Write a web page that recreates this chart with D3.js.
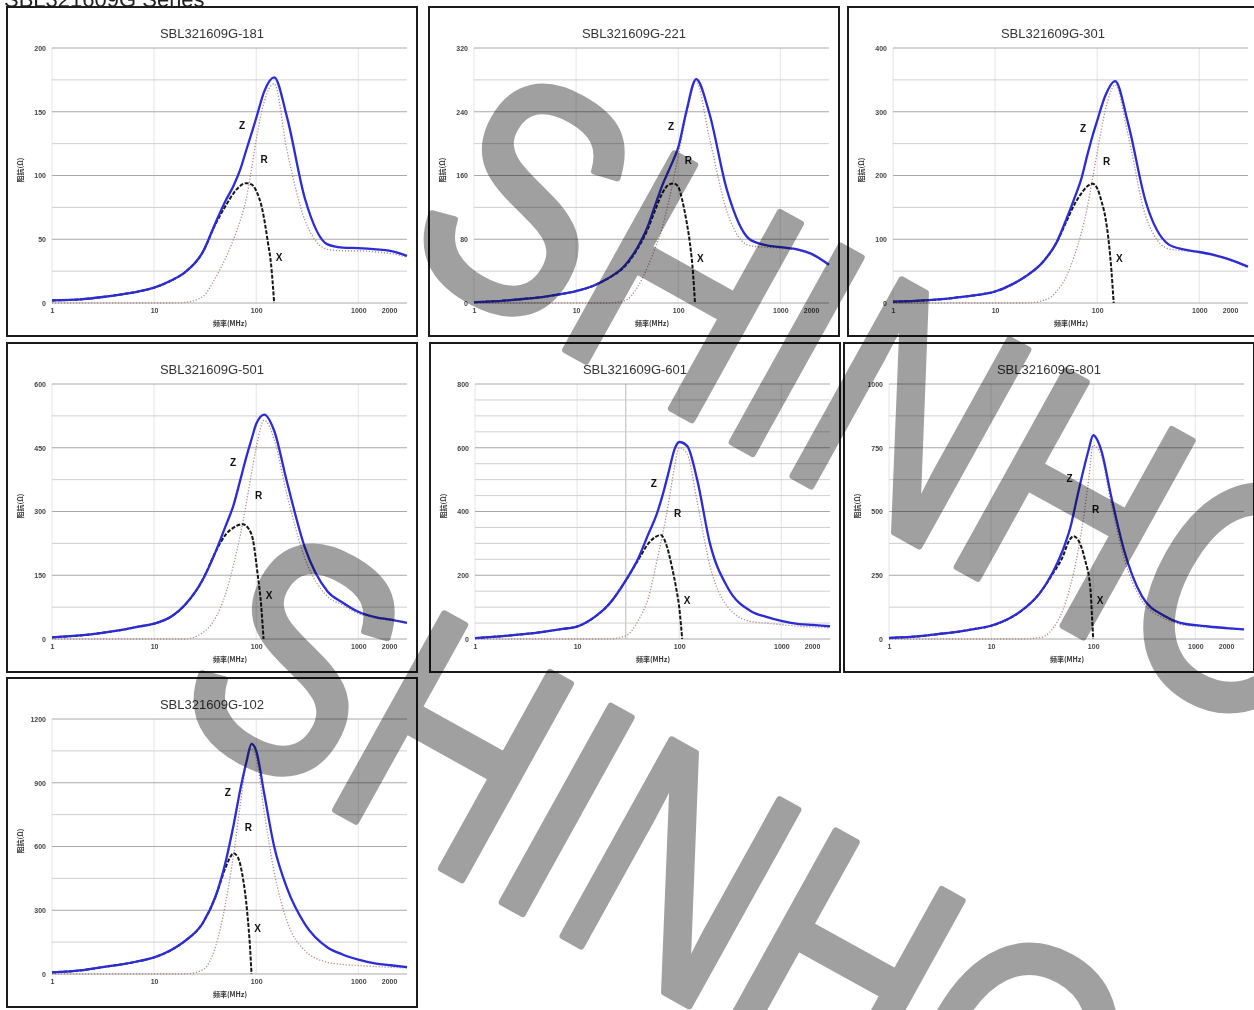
<!DOCTYPE html>
<html><head><meta charset="utf-8">
<script src="https://cdn.jsdelivr.net/npm/d3@7"></script>
<style>html,body{margin:0;padding:0;background:#fff;overflow:hidden} svg{display:block}</style>
</head><body>
<svg id="c" width="1254" height="1010"></svg>
<script>
// ---------- data ----------
const header = "SBL321609G  Series";
const titles = ["SBL321609G-181","SBL321609G-221","SBL321609G-301","SBL321609G-501","SBL321609G-601","SBL321609G-801","SBL321609G-102"];
const freq = [1,2,3,5,7,10,15,20,30,40,50,60,70,80,90,100,120,150,200,300,500,700,1000,1500,2000,3000];
const xTickValues = [1,10,100,1000,2000];
const xTickLabels = ["1","10","100","1000","2000"];
const yMax  = [200,320,400,600,800,1000,1200];
const yStep = [50,80,100,150,200,250,300];
const yMinorStep = [25,40,50,75,50,125,150];
const yTitle = "阻抗(Ω)";
const xTitle = "频率(MHz)";
const extraVLines = [[],[],[],[],[30],[],[]];

const z181 = [2,3,4.5,7,9,12,18,24,40,63,80,92,105,120,133,145,166,177,146,82,46,43.5,43,42,41,37];
const r181 = [0,0,0,0,0,0,0,0.5,5,20,35,50,65,82,105,128,158,172,120,65,42,41,41,40,39,36];
const xf181 = [1,2,3,5,7,10,15,20,30,40,50,60,70,80,90,100,115,130,140,150];
const x181 = [2,3,4.5,7,9,12,18,24,40,62,76,86,92,94,93,88,73,48,30,0];

const z221 = [1,3,5,8,11,15,22,30,47,70,95,124,148,165,180,195,240,281,240,142,80,73,70,67,62,48];
const r221 = [0,0,0,0,0,0,0,0,3,20,45,70,95,125,155,185,235,278,210,115,72,70,69,66,61,47];
const xf221 = [1,2,3,5,7,10,15,20,30,40,50,60,70,80,90,100,110,120,130,140,146];
const x221 = [1,3,5,8,11,15,22,30,46,68,92,118,138,148,150,146,128,104,76,36,0];

const z301 = [2,4,6,10,13,18,30,42,66,95,132,165,195,232,262,286,325,348,283,158,92,84,80,74,68,57];
const r301 = [0,0,0,0,0,0,0,0,4,18,42,75,110,150,195,236,302,342,265,135,85,82,79,73,67,55];
const xf301 = [1,2,3,5,7,10,15,20,30,40,50,60,70,80,90,100,110,120,130,138,145];
const x301 = [2,4,6,10,13,18,30,42,66,95,128,155,172,183,187,180,160,135,95,50,0];

const z501 = [4,9,14,22,29,36,54,80,140,205,265,315,375,428,470,506,528,490,370,215,112,86,64,51,46,38];
const r501 = [0,0,0,0,0,0,0,0,15,50,105,175,245,320,390,450,515,470,340,190,100,80,60,49,44,37];
const xf501 = [1,2,3,5,7,10,15,20,30,40,50,60,74,85,93,103,112,118];
const x501 = [4,9,14,22,29,36,54,80,140,205,245,262,270,258,233,155,77,0];

const z601 = [3,10,15,24,31,39,70,105,184,255,330,390,460,532,595,618,605,500,300,160,88,70,57,47,44,40];
const r601 = [0,0,0,0,0,0,0,0,10,60,130,240,340,440,540,600,580,430,230,100,55,50,45,40,38,35];
const xf601 = [1,2,3,5,7,10,15,20,30,40,50,60,66,75,85,93,100,107];
const x601 = [3,10,15,24,31,39,70,105,184,250,300,322,326,295,225,163,100,0];

const z801 = [4,11,19,30,40,52,80,112,180,260,345,440,560,660,740,799,740,560,350,168,90,64,54,47,43,38];
const r801 = [0,0,0,0,0,0,0,0,5,40,110,210,330,470,620,760,720,530,320,150,80,58,50,44,41,36];
const xf801 = [1,2,3,5,7,10,15,20,30,40,50,58,64,72,83,94,98,100];
const x801 = [4,11,19,30,40,52,80,112,180,255,320,385,403,385,312,195,65,0];

const z102 = [8,18,31,47,60,78,115,155,240,365,525,700,870,995,1083,1050,847,600,405,235,125,92,68,49,42,32];
const r102 = [0,0,0,0,0,0,0,0,20,130,330,560,800,990,1060,1020,760,480,250,110,55,45,40,35,32,28];
const xf102 = [1,2,3,5,7,10,15,20,30,40,50,55,60,66,73,82,87,90];
const x102 = [8,18,31,47,60,78,115,155,240,365,500,545,568,550,470,282,126,0];

const zSeries = [z181,z221,z301,z501,z601,z801,z102];
const rSeries = [r181,r221,r301,r501,r601,r801,r102];
const xFreqs  = [xf181,xf221,xf301,xf501,xf601,xf801,xf102];
const xSeries = [x181,x221,x301,x501,x601,x801,x102];
const watermark = "SHINHO";

// ---------- layout ----------
const boxPos = [[7,7],[429,7],[848,7],[7,343],[430,343],[844,343],[7,678]];
const PW = 410, PH = 329;
const M = {l:45, r:400, t:41, b:296};

const svg = d3.select("#c");
svg.append("rect").attr("width",1254).attr("height",1010).attr("fill","#fff");

svg.append("text").attr("x",4).attr("y",7)
  .attr("font-family","'Liberation Sans', Arial, sans-serif").attr("font-size",22)
  .attr("fill","#222").text(header);

function crossing(fs, vs, target, falling){
  let iMax = vs.indexOf(d3.max(vs));
  if(!falling){
    for(let i=0;i<iMax;i++){
      if(vs[i]<=target && vs[i+1]>=target){
        const t=(target-vs[i])/(vs[i+1]-vs[i]);
        return Math.pow(10, Math.log10(fs[i])+t*(Math.log10(fs[i+1])-Math.log10(fs[i])));
      }
    }
  } else {
    for(let i=iMax;i<vs.length-1;i++){
      if(vs[i]>=target && vs[i+1]<=target){
        const t=(vs[i]-target)/(vs[i]-vs[i+1]);
        return Math.pow(10, Math.log10(fs[i])+t*(Math.log10(fs[i+1])-Math.log10(fs[i])));
      }
    }
  }
  return fs[iMax];
}

titles.forEach((title, p) => {
  const [bx, by] = boxPos[p];
  const g = svg.append("g").attr("transform", `translate(${bx},${by})`);
  g.append("rect").attr("x",0).attr("y",0).attr("width",PW).attr("height",PH)
    .attr("fill","#fff").attr("stroke","#1b1b1b").attr("stroke-width",2);

  const xs = d3.scaleLog().domain([1,3000]).range([M.l, M.r]);
  const ys = d3.scaleLinear().domain([0, yMax[p]]).range([M.b, M.t]);

  const vl = [1,10,100,1000].concat(extraVLines[p]);
  g.selectAll(".vg").data(vl).enter().append("line")
    .attr("x1",d=>xs(d)).attr("x2",d=>xs(d)).attr("y1",M.t).attr("y2",M.b)
    .attr("stroke", d=> extraVLines[p].includes(d) ? "#b8b8b8" : "#e4e4e4").attr("stroke-width",1);

  const majors = d3.range(0, yMax[p]+1e-9, yStep[p]);
  const minors = d3.range(0, yMax[p]+1e-9, yMinorStep[p]).filter(v=>!majors.some(m=>Math.abs(m-v)<1e-6));
  g.selectAll(".mg").data(minors).enter().append("line")
    .attr("x1",M.l).attr("x2",M.r).attr("y1",d=>ys(d)).attr("y2",d=>ys(d))
    .attr("stroke","#cfcfcf").attr("stroke-width",1);
  g.selectAll(".Mg").data(majors).enter().append("line")
    .attr("x1",M.l).attr("x2",M.r).attr("y1",d=>ys(d)).attr("y2",d=>ys(d))
    .attr("stroke","#a9a9a9").attr("stroke-width",1.2);

  const ya = g.append("g").attr("transform",`translate(${M.l},0)`)
    .call(d3.axisLeft(ys).tickValues(majors).tickSize(0).tickPadding(6).tickFormat(d3.format("d")));
  const xa = g.append("g").attr("transform",`translate(0,${M.b})`)
    .call(d3.axisBottom(xs).tickValues(xTickValues).tickSize(0).tickPadding(5).tickFormat((d,i)=>xTickLabels[i]));
  [ya, xa].forEach(a=>{
    a.select(".domain").remove();
    a.selectAll("text").attr("font-family","'Liberation Sans', Arial, sans-serif")
      .attr("font-size",7).attr("font-weight","bold").attr("fill","#444");
  });

  g.append("text").attr("x",205).attr("y",31).attr("text-anchor","middle")
    .attr("font-family","'Liberation Sans', Arial, sans-serif").attr("font-size",13)
    .attr("fill","#333").text(title);
  g.append("text").attr("transform","translate(16,163) rotate(-90)").attr("text-anchor","middle")
    .attr("font-family","'Noto Sans CJK SC', sans-serif").attr("font-size",7).attr("font-weight","bold")
    .attr("fill","#333").text(yTitle);
  g.append("text").attr("x",223).attr("y",319).attr("text-anchor","middle")
    .attr("font-family","'Noto Sans CJK SC', sans-serif").attr("font-size",7).attr("font-weight","bold")
    .attr("fill","#333").text(xTitle);

  const line = d3.line().x(d=>xs(d[0])).y(d=>ys(d[1])).curve(d3.curveMonotoneX);
  const zPts = freq.map((f,i)=>[f, zSeries[p][i]]);
  const rPts = freq.map((f,i)=>[f, rSeries[p][i]]);
  const xPts = xFreqs[p].map((f,i)=>[f, xSeries[p][i]]);

  g.append("path").attr("d", line(rPts)).attr("fill","none")
    .attr("stroke","#b48a8a").attr("stroke-width",1.3).attr("stroke-dasharray","1.2,1.8");
  g.append("path").attr("d", line(xPts)).attr("fill","none")
    .attr("stroke","#151515").attr("stroke-width",2).attr("stroke-dasharray","4,1.6");
  g.append("path").attr("d", line(zPts)).attr("fill","none")
    .attr("stroke","#2c2cd4").attr("stroke-width",2.3);

  const zMax = d3.max(zSeries[p]), xMaxV = d3.max(xSeries[p]);
  const fz = crossing(freq, zSeries[p], 0.79*zMax, false);
  const fr = crossing(freq, rSeries[p], 0.64*zMax, false);
  const fx = crossing(xFreqs[p], xSeries[p], 0.38*xMaxV, true);
  const lab = [["Z", xs(fz)-12, ys(0.79*zMax)], ["R", xs(fr)+11, ys(0.64*zMax)], ["X", xs(fx)+9, ys(0.38*xMaxV)]];
  g.selectAll(".lab").data(lab).enter().append("text")
    .attr("x",d=>d[1]).attr("y",d=>d[2]+4).attr("text-anchor","middle")
    .attr("font-family","'Liberation Sans', Arial, sans-serif").attr("font-size",10).attr("font-weight","bold")
    .attr("fill","#111").text(d=>d[0]);
});

// watermark
const wm = svg.append("g").style("mix-blend-mode","multiply");
[[395,255],[165,715]].forEach(([tx,ty])=>{
  wm.append("text").attr("transform",`translate(${tx},${ty}) rotate(29) scale(1,1.25)`)
    .attr("font-family","'Liberation Sans', Arial, sans-serif").attr("font-size",260)
    .attr("fill","#a0a0a0").attr("stroke","#a0a0a0").attr("stroke-width",6).attr("stroke-linejoin","round")
    .style("mix-blend-mode","multiply").text(watermark);
});
</script>
</body></html>
